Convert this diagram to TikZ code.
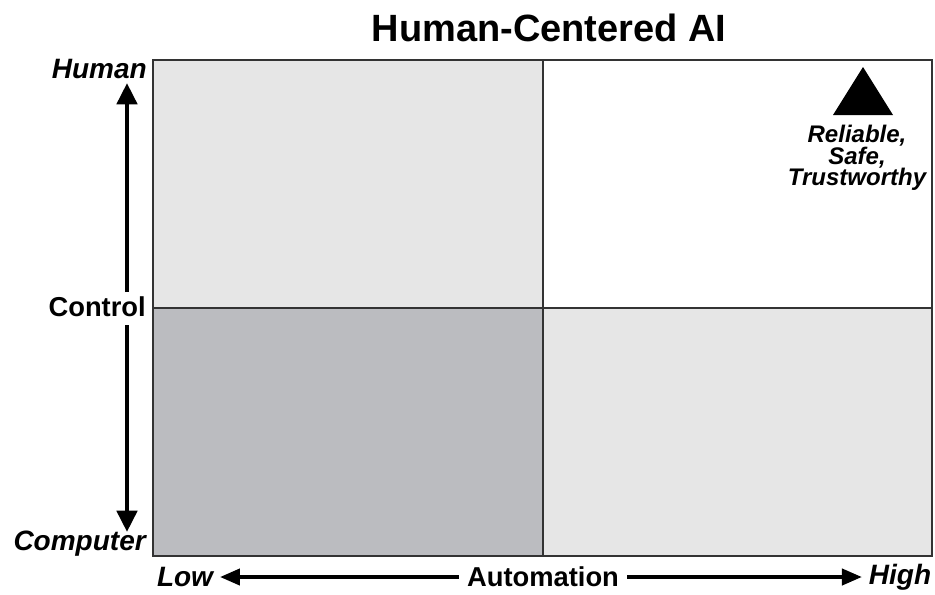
\documentclass[tikz,border=0pt]{standalone}
\usepackage{fontspec}
\setmainfont{Liberation Sans}
\usetikzlibrary{arrows.meta}
\definecolor{lightcell}{HTML}{E6E6E6}
\definecolor{darkcell}{HTML}{BBBCC0}
\def\gridcol{black!80}
\tikzset{
  vaxis/.style={line width=3.5pt,-{Triangle[length=16pt,width=15pt]}},
  haxis/.style={line width=3pt,-{Triangle[length=15pt,width=12pt]}},
  endlabel/.style={font=\bfseries\itshape\fontsize{21}{21}\selectfont,inner sep=0pt},
  midlabel/.style={font=\bfseries\fontsize{20.5}{20.5}\selectfont,inner sep=0pt},
  cell/.style={draw=\gridcol,line width=.8pt},
}

\begin{document}
\begin{tikzpicture}[x=.75pt,y=-.75pt]
  \useasboundingbox (0,0) rectangle (935,594);
  \node[font=\bfseries\fontsize{28.5}{28.5}\selectfont] (title) at (549,28) {Human-Centered AI};
  % quadrants
  \fill[lightcell] (153,60) rectangle (543,308);
  \fill[darkcell] (153,308) rectangle (543,556);
  \fill[lightcell] (543,308) rectangle (932,556);
  \draw[cell] (153,60) rectangle (932,556);
  \draw[cell] (543,60) -- (543,556);
  \draw[cell] (153,308) -- (932,308);
  % control axis
  \node[endlabel,anchor=east] (human) at (147,69) {Human};
  \node[endlabel,anchor=east] (computer) at (146,544) {Computer};
  \node[midlabel,anchor=east] (control) at (146,307) {Control};
  \coordinate (vtop) at (127,83);
  \coordinate (vbot) at (127,532);
  \draw[vaxis] (127,292) -- (vtop);
  \draw[vaxis] (127,325) -- (vbot);
  % automation axis
  \node[endlabel] (low) at (185,577) {Low};
  \node[midlabel] (auto) at (543,577) {Automation};
  \node[endlabel] (high) at (900,577) {High};
  \draw[haxis] ([xshift=-6]auto.west) -- ([xshift=5]low.east);
  \draw[haxis] ([xshift=6]auto.east) -- ([xshift=-5]high.west);
  % goal
  \fill (833,115) -- (863,67) -- (893,115) -- cycle;
  \node[font=\bfseries\itshape\fontsize{18}{18}\selectfont,align=center,inner sep=0pt] (goal) at (857,158) {Reliable,\\[-2pt]Safe,\\[-2pt]Trustworthy};
\end{tikzpicture}
\end{document}
